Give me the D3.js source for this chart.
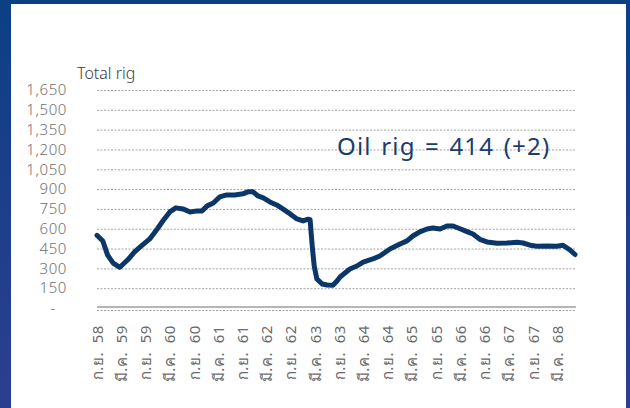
<!DOCTYPE html>
<html>
<head>
<meta charset="utf-8">
<script src="https://cdn.jsdelivr.net/npm/d3@7"></script>
<style>
  html, body { margin: 0; padding: 0; }
  body { width: 630px; height: 408px; overflow: hidden; background: #0d3f84; }
  text { font-family: "Tahoma", "Noto Sans", "DejaVu Sans", sans-serif; }
</style>
</head>
<body>
<script>
// ข้อมูลจำนวนแท่นขุด (อ่านค่าจากภาพ)
const dates = [
  "2015-09-01","2015-10-15","2015-11-20","2016-01-01","2016-02-20","2016-04-20","2016-06-10",
  "2016-08-12","2016-10-03","2016-11-28","2017-01-12","2017-03-03","2017-04-18","2017-06-10",
  "2017-08-03","2017-09-25","2017-11-01","2017-12-10","2018-01-25","2018-03-15","2018-05-06",
  "2018-07-06","2018-09-06","2018-10-12","2018-11-21","2018-12-28","2019-02-06","2019-03-28",
  "2019-05-18","2019-07-03","2019-08-28","2019-10-18","2019-12-03","2020-01-10","2020-01-25",
  "2020-02-10","2020-02-25","2020-03-16","2020-04-25","2020-06-01","2020-07-15","2020-08-15",
  "2020-09-07","2020-11-20","2021-01-12","2021-02-28","2021-05-12","2021-07-04","2021-09-18",
  "2021-12-03","2022-01-25","2022-03-10","2022-05-01","2022-06-25","2022-08-08","2022-10-01",
  "2022-11-22","2023-01-07","2023-03-01","2023-04-22","2023-06-06","2023-07-28","2023-09-20",
  "2023-12-04","2024-02-18","2024-05-04","2024-06-18","2024-08-10","2024-10-01","2024-12-16",
  "2025-03-01","2025-04-15","2025-06-06","2025-07-15"
];
const rigs = [
  550, 507, 400, 340, 308, 365, 424,
  480, 523, 598, 662, 727, 758, 750,
  727, 735, 735, 773, 795, 841, 856,
  856, 864, 879, 879, 848, 833, 803,
  780, 750, 712, 674, 659, 672, 668,
  470, 318, 220, 182, 174, 172, 205,
  235, 295, 318, 348, 371, 394, 447,
  485, 508, 545, 576, 598, 606, 598,
  621, 621, 600, 578, 560, 520, 500,
  490, 492, 497, 492, 475, 468, 470,
  468, 475, 440, 405
];
const yTicks = [0, 150, 300, 450, 600, 750, 900, 1050, 1200, 1350, 1500, 1650];
const xTickDates = [
  "2015-09-01","2016-03-01","2016-09-01","2017-03-01","2017-09-01","2018-03-01","2018-09-01",
  "2019-03-01","2019-09-01","2020-03-01","2020-09-01","2021-03-01","2021-09-01","2022-03-01",
  "2022-09-01","2023-03-01","2023-09-01","2024-03-01","2024-09-01","2025-03-01"
];
const xTickLabels = [
  "ก.ย. 58","มี.ค. 59","ก.ย. 59","มี.ค. 60","ก.ย. 60","มี.ค. 61","ก.ย. 61","มี.ค. 62",
  "ก.ย. 62","มี.ค. 63","ก.ย. 63","มี.ค. 64","ก.ย. 64","มี.ค. 65","ก.ย. 65","มี.ค. 66",
  "ก.ย. 66","มี.ค. 67","ก.ย. 67","มี.ค. 68"
];
const yTitle = "Total rig";
const note = "Oil rig = 414 (+2)";

const parse = d3.timeParse("%Y-%m-%d");
const data = dates.map((d, i) => ({date: parse(d), value: rigs[i]}));

const W = 630, H = 408;
const svg = d3.select("body").append("svg")
    .attr("width", W)
    .attr("height", H);

// พื้นหลังกรอบสีน้ำเงิน
const defs = svg.append("defs");
const grad = defs.append("linearGradient")
    .attr("id", "bg")
    .attr("x1", 0).attr("y1", 0).attr("x2", 0).attr("y2", 1);
grad.append("stop").attr("offset", "0%").attr("stop-color", "#0d3f84");
grad.append("stop").attr("offset", "100%").attr("stop-color", "#2c3f8e");
svg.append("rect").attr("width", W).attr("height", H).attr("fill", "url(#bg)");
svg.append("rect")
    .attr("x", 11).attr("y", 4)
    .attr("width", 615).attr("height", H - 4)
    .attr("fill", "#ffffff");

const x = d3.scaleTime()
    .domain([parse("2015-09-01"), parse("2025-03-01")])
    .range([97, 557]);
const y = d3.scaleLinear()
    .domain([0, 1650])
    .range([308, 90]);

// เส้นกริด
svg.append("g")
    .selectAll("line")
    .data(yTicks)
    .join("line")
    .attr("x1", 97)
    .attr("x2", 576)
    .attr("y1", d => y(d) + 0.5 + (d === 0 ? 2 : 0))
    .attr("y2", d => y(d) + 0.5 + (d === 0 ? 2 : 0))
    .attr("stroke", "#8c8c8c")
    .attr("stroke-width", 0.8)
    .attr("stroke-dasharray", "2,1.5");

// แกน X (เส้นทึบ)
svg.append("line")
    .attr("x1", 97).attr("x2", 576)
    .attr("y1", y(0) - 1).attr("y2", y(0) - 1)
    .attr("stroke", "#6f6f6f")
    .attr("stroke-width", 1.2);

// แกน Y
const yAxis = svg.append("g")
    .attr("transform", "translate(67,0)")
    .call(d3.axisLeft(y)
        .tickValues(yTicks)
        .tickSize(0)
        .tickPadding(0)
        .tickFormat(d => d === 0 ? "-" : d3.format(",")(d)));
yAxis.select(".domain").remove();
yAxis.selectAll("text")
    .attr("font-size", 15)
    .attr("fill", "#707070")
    .attr("font-family", "'Open Sans', 'Noto Sans', sans-serif")
    .attr("font-weight", 300)
    .attr("letter-spacing", 0.6)
    .attr("dx", d => d === 0 ? -11 : 0);

// แกน X
const xAxis = svg.append("g")
    .attr("transform", "translate(0,314)")
    .call(d3.axisBottom(x)
        .tickValues(xTickDates.map(parse))
        .tickSize(0)
        .tickFormat((d, i) => xTickLabels[i]));
xAxis.select(".domain").remove();
xAxis.selectAll("text")
    .attr("font-size", 15)
    .attr("fill", "#6a6a6a")
    .attr("letter-spacing", 0.6)
    .attr("word-spacing", 4)
    .attr("transform", "rotate(-90)")
    .attr("text-anchor", "end")
    .attr("x", -11)
    .attr("y", 0)
    .attr("dy", "0.35em");

// เส้นข้อมูล
svg.append("path")
    .datum(data)
    .attr("fill", "none")
    .attr("stroke", "#0b3768")
    .attr("stroke-width", 5)
    .attr("stroke-linejoin", "round")
    .attr("stroke-linecap", "round")
    .attr("d", d3.line()
        .x(d => x(d.date))
        .y(d => y(d.value)));

// ชื่อแกน
svg.append("text")
    .attr("x", 77)
    .attr("y", 79)
    .attr("font-size", 16)
    .attr("fill", "#3a3a3a")
    .attr("font-family", "'Open Sans', 'Noto Sans', sans-serif")
    .attr("font-weight", 300)
    .text(yTitle);

// ข้อความกำกับ
svg.append("text")
    .attr("x", 337)
    .attr("y", 155)
    .attr("font-size", 24)
    .attr("fill", "#173e6e")
    .attr("letter-spacing", 1.2)
    .attr("word-spacing", 2)
    .attr("font-family", "'Open Sans', 'Noto Sans', sans-serif")
    .text(note);
</script>
</body>
</html>
